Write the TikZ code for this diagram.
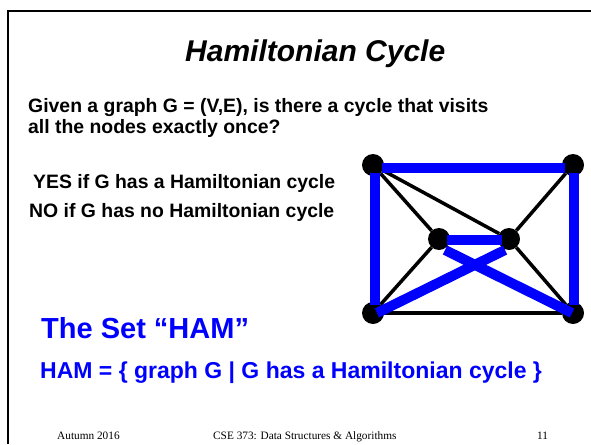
\documentclass[tikz,border=0pt]{standalone}
\usepackage{fontspec}
\setmainfont{Liberation Serif}
\newfontfamily\arialfont{Liberation Sans}
\usepackage{xcolor}
\usetikzlibrary{calc}

\definecolor{hamblue}{RGB}{0,0,255}

\tikzset{
  vert/.style={circle, fill=black, minimum size=22pt, inner sep=0pt},
  plain/.style={line width=3.5pt, black},
  ham/.style={line width=10pt, hamblue},
  txt/.style={anchor=base west, inner sep=0pt, font=\arialfont\bfseries\fontsize{19.4}{23}\selectfont},
  foot/.style={anchor=base west, inner sep=0pt, font=\fontsize{11.3}{13}\selectfont}
}

\begin{document}
\begin{tikzpicture}[x=1pt, y=-1pt]
\useasboundingbox (0,0) rectangle (591,444);

% slide frame (cut at right and bottom)
\draw[line width=2pt] (8,444) -- (8,11) -- (591,11);

\node[anchor=base west, inner sep=0pt, font=\arialfont\bfseries\itshape\fontsize{30}{34}\selectfont] (title) at (185,62) {Hamiltonian Cycle};

\node[txt] (q1) at (28,112) {Given a graph G = (V,E), is there a cycle that visits};
\node[txt] (q2) at (28,133) {all the nodes exactly once?};

\node[txt] (yes) at (33,188) {YES if G has a Hamiltonian cycle};
\node[txt] (no) at (29,217) {NO if G has no Hamiltonian cycle};

% the graph
\node[vert] (tl) at (373,165) {};
\node[vert] (tr) at (573,165) {};
\node[vert] (ml) at (439,239) {};
\node[vert] (mr) at (509,239) {};
\node[vert] (bl) at (373,313) {};
\node[vert] (br) at (573,313) {};

\draw[plain] (tl) -- (ml);
\draw[plain] (tl) -- (mr);
\draw[plain] (tr) -- (mr);
\draw[plain] (ml) -- (bl);
\draw[plain] (mr) -- (br);
\draw[plain] (bl) -- (br);

% the cycle
\draw[ham, shorten <=9pt, shorten >=8pt] ([yshift=-3pt]tl.center) -- ([yshift=-3pt]tr.center);
\draw[ham, shorten <=8pt, shorten >=8pt] ([xshift=2pt]tl.center) -- ([xshift=2pt]bl.center);
\draw[ham, shorten <=8pt, shorten >=8pt] ([xshift=1pt]tr.center) -- ([xshift=1pt]br.center);
\draw[ham, shorten <=8pt, shorten >=7pt] ([yshift=-1pt]ml.center) -- ([yshift=-1pt]mr.center);
\draw[ham] ($(ml)+(6,11)$) -- ($(br)+(-1,0)$);
\draw[ham] ($(mr)+(-4,11)$) -- ($(bl)+(4,0)$);

\node[anchor=base west, inner sep=0pt, text=hamblue, font=\arialfont\bfseries\fontsize{29}{33}\selectfont] (set) at (41,338) {The Set “HAM”};
\node[anchor=base west, inner sep=0pt, text=hamblue, font=\arialfont\bfseries\fontsize{23}{27}\selectfont] (def) at (40,378) {HAM = \{ graph G | G has a Hamiltonian cycle \}};

% footer
\node[foot] (date) at (57,439) {Autumn 2016};
\node[foot] (course) at (213,439) {CSE 373: Data Structures \& Algorithms};
\node[foot] (page) at (537,439) {11};
\end{tikzpicture}
\end{document}
